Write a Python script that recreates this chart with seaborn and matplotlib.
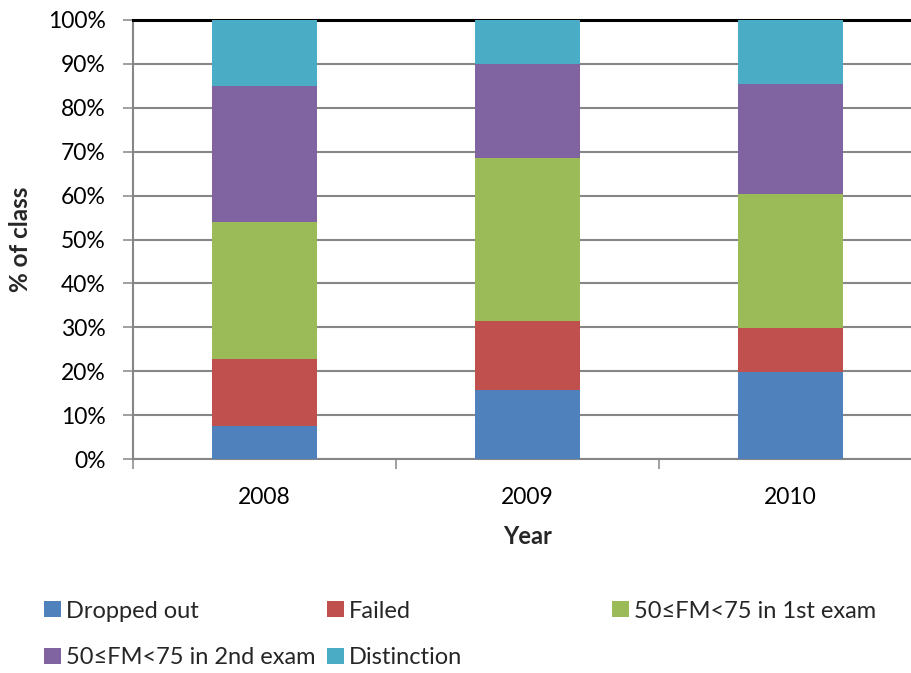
import matplotlib
matplotlib.use("Agg")
import matplotlib.pyplot as plt
from matplotlib.patches import Patch
from matplotlib.ticker import PercentFormatter, FixedLocator
import pandas as pd
import seaborn as sns

# Share of class per outcome (%)
years = ["2008", "2009", "2010"]
dropped_out = [7.6, 15.8, 19.8]
failed = [15.3, 15.7, 10.0]
first_exam = [31.1, 37.0, 30.5]
second_exam = [30.9, 21.4, 25.0]
distinction = [15.1, 10.1, 14.7]

labels = [
    "Dropped out",
    "Failed",
    "50≤FM<75 in 1st exam",
    "50≤FM<75 in 2nd exam",
    "Distinction",
]
colors = ["#4F81BD", "#C0504D", "#9BBB59", "#8064A2", "#4BACC6"]

df = pd.DataFrame(
    dict(zip(labels, [dropped_out, failed, first_exam, second_exam, distinction])),
    index=years,
)
cum = df.cumsum(axis=1)

sns.set_style("white")
plt.rcParams["font.family"] = ["Lato", "DejaVu Sans"]

W, H = 911, 673
fig = plt.figure(figsize=(W / 100, H / 100), dpi=100)
ax = fig.add_axes([133 / W, 1 - 459.3 / H, 789 / W, 439.6 / H])

# stacked bars: draw tallest cumulative first
for name, c in reversed(list(zip(labels, colors))):
    sns.barplot(x=years, y=cum[name].values, color=c, width=0.4,
                saturation=1, ax=ax, zorder=3, linewidth=0)

grid_c = "#868686"
ax.set_ylim(0, 100)
ax.set_xlim(-0.5, 2.5)
ax.yaxis.set_major_locator(FixedLocator(range(0, 101, 10)))
ax.yaxis.set_major_formatter(PercentFormatter(decimals=0))
ax.grid(axis="y", color=grid_c, lw=1.5, zorder=0)
ax.set_axisbelow(True)

ax.spines["right"].set_visible(False)
ax.spines["top"].set_color("black")
ax.spines["top"].set_linewidth(2.2)
ax.spines["left"].set_color(grid_c)
ax.spines["left"].set_linewidth(1.5)
ax.spines["bottom"].set_color(grid_c)
ax.spines["bottom"].set_linewidth(1.5)

ax.tick_params(axis="y", which="major", direction="out", length=7.5,
               width=1.1, color=grid_c, labelsize=16.5, pad=12,
               left=True, labelcolor="black")
ax.set_xticks([0, 1, 2])
ax.set_xticklabels(years)
ax.set_xticks([-0.5, 0.5, 1.5, 2.5], minor=True)
ax.tick_params(axis="x", which="major", length=0, labelsize=16.5, pad=20,
               labelcolor="black")
ax.tick_params(axis="x", which="minor", direction="out", length=7,
               width=1.1, color=grid_c, bottom=True)

ax.set_xlabel("Year", fontsize=17, fontweight="bold", labelpad=12)
ax.set_ylabel("% of class", fontsize=17.5, fontweight="bold")
ax.yaxis.set_label_coords(-101 / 789, 0.5)

# Excel-style legend: entries at fixed grid slots
slots = [(44, 611), (327, 611), (612, 611), (44, 658), (327, 658)]
for name, c, (x, y) in zip(labels, colors, slots):
    fig.legend(
        handles=[Patch(facecolor=c, edgecolor="none")],
        labels=[name],
        loc="center left",
        bbox_to_anchor=(x / W, 1 - y / H),
        frameon=False,
        fontsize=17,
        borderpad=0,
        borderaxespad=0,
        handlelength=0.72,
        handleheight=0.65,
        handletextpad=0.2,
    )

fig.savefig("out.png", dpi=100)
